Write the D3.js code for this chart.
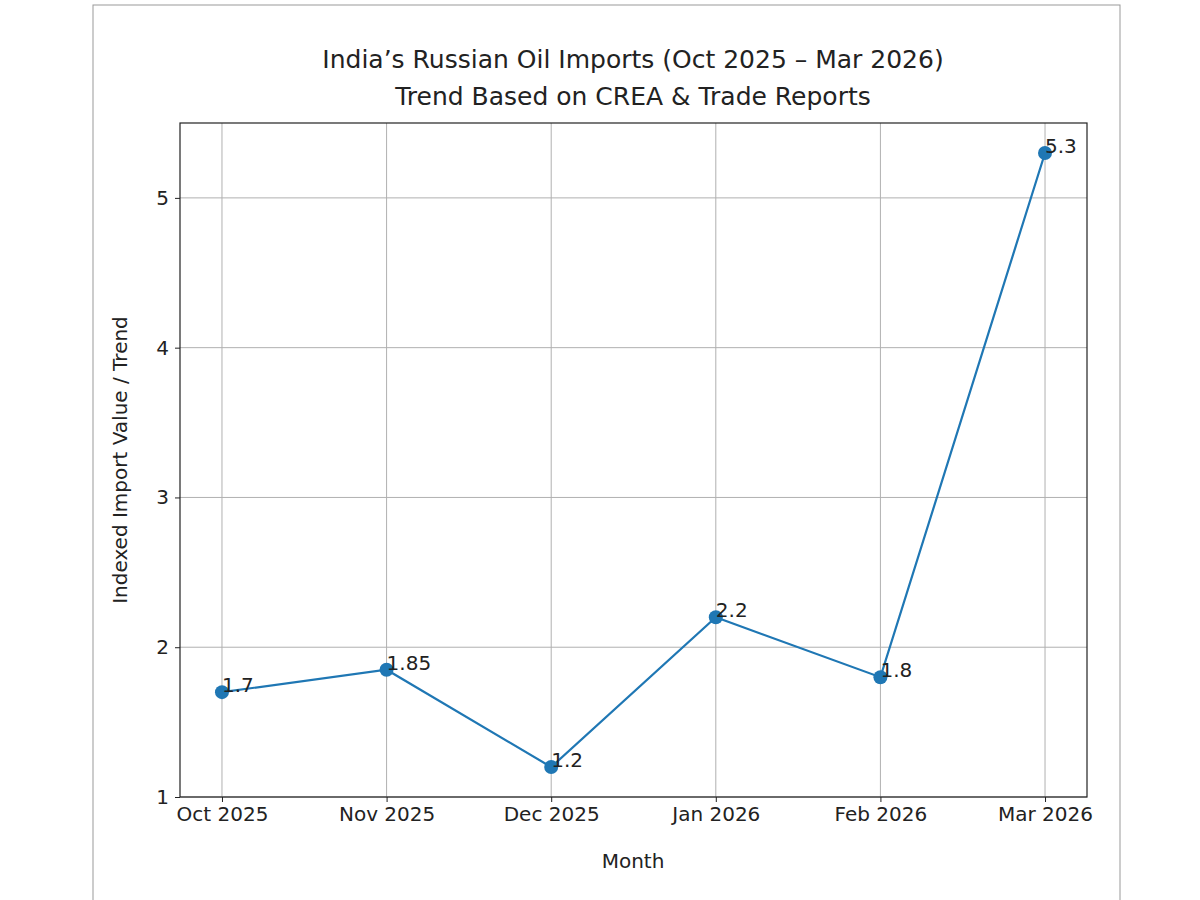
<!DOCTYPE html><html><head><meta charset="utf-8"><script src="https://cdn.jsdelivr.net/npm/d3@7"></script>
<style>body{margin:0;background:#fff}svg{font-family:"DejaVu Sans",sans-serif}</style></head><body>
<svg id="c" width="1200" height="900"></svg>
<script>
const months=["Oct 2025","Nov 2025","Dec 2025","Jan 2026","Feb 2026","Mar 2026"];
const values=[1.7,1.85,1.2,2.2,1.8,5.3];
const labels=["1.7","1.85","1.2","2.2","1.8","5.3"];
const yTicks=[1,2,3,4,5];
const svg=d3.select("#c");
svg.append("rect").attr("x",93).attr("y",5).attr("width",1027).attr("height",900).attr("fill","none").attr("stroke","#999");
const L=180,R=1087,T=123,B=797;
const x=d3.scaleLinear().domain([-0.255,5.255]).range([L,R]);
const y=d3.scaleLinear().domain([1,5.5]).range([B,T]);
const g=svg.append("g");
months.forEach((m,i)=>g.append("line").attr("x1",x(i)).attr("x2",x(i)).attr("y1",T).attr("y2",B).attr("stroke","#b0b0b0").attr("stroke-width",1));
yTicks.forEach(v=>g.append("line").attr("x1",L).attr("x2",R).attr("y1",y(v)).attr("y2",y(v)).attr("stroke","#b0b0b0").attr("stroke-width",1));
const xa=svg.append("g").attr("transform",`translate(0,${B})`).call(d3.axisBottom(x).tickValues(d3.range(6)).tickFormat(i=>months[i]).tickSize(5).tickPadding(5));
const ya=svg.append("g").attr("transform",`translate(${L},0)`).call(d3.axisLeft(y).tickValues(yTicks).tickFormat(d3.format("d")).tickSize(5).tickPadding(6));
[xa,ya].forEach(a=>{a.attr("font-size",null).attr("font-family",null);a.select(".domain").remove();a.selectAll("text").style("font-size","20px").attr("fill","#222");a.selectAll("line").attr("stroke","#222");});
svg.append("rect").attr("x",L).attr("y",T).attr("width",R-L).attr("height",B-T).attr("fill","none").attr("stroke","#222").attr("stroke-width",1.2);
const line=d3.line().x((d,i)=>x(i)).y(d=>y(d));
svg.append("path").datum(values).attr("d",line).attr("fill","none").attr("stroke","#1f77b4").attr("stroke-width",2.2);
svg.selectAll("circle.p").data(values).join("circle").attr("cx",(d,i)=>x(i)).attr("cy",d=>y(d)).attr("r",7).attr("fill","#1f77b4");
svg.selectAll("text.l").data(values).join("text").attr("x",(d,i)=>x(i)).attr("y",d=>y(d)).style("font-size","20px").attr("fill","#222").text((d,i)=>labels[i]);
svg.append("text").attr("x",633).attr("y",68).attr("text-anchor","middle").style("font-size","25px").attr("fill","#222").text("India’s Russian Oil Imports (Oct 2025 – Mar 2026)");
svg.append("text").attr("x",633).attr("y",105).attr("text-anchor","middle").style("font-size","25px").attr("fill","#222").text("Trend Based on CREA & Trade Reports");
svg.append("text").attr("x",633).attr("y",868).attr("text-anchor","middle").style("font-size","20px").attr("fill","#222").text("Month");
svg.append("text").attr("transform",`translate(127,${(T+B)/2}) rotate(-90)`).attr("text-anchor","middle").style("font-size","20px").attr("fill","#222").text("Indexed Import Value / Trend");
</script></body></html>
